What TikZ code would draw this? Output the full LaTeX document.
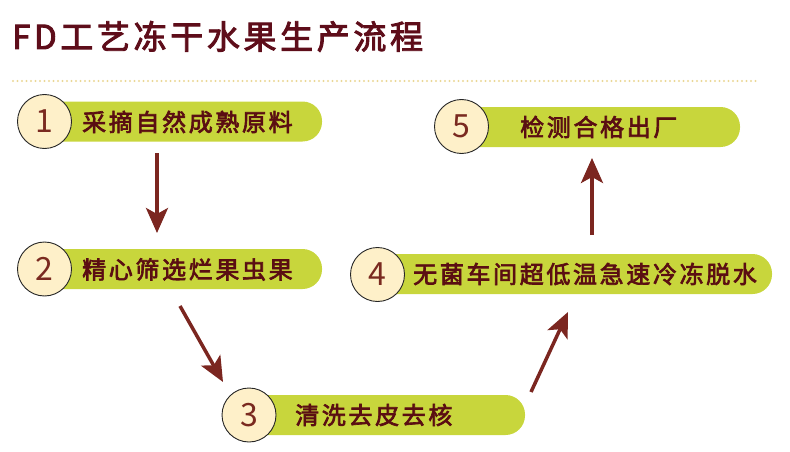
\documentclass[tikz,border=0pt]{standalone}
\usepackage{fontspec}
\newfontfamily\cjk[LetterSpace=11,FakeBold=2.8]{Noto Sans CJK SC}
\newfontfamily\cjknum{Noto Sans CJK SC}
\usetikzlibrary{arrows.meta}
\definecolor{titlec}{HTML}{5E0D1A}
\definecolor{dotc}{HTML}{EAD796}
\definecolor{pillc}{HTML}{C8D63C}
\definecolor{circc}{HTML}{FEF0C9}
\definecolor{labc}{HTML}{5A0E12}
\definecolor{numc}{HTML}{7A2A20}
\definecolor{arrc}{HTML}{7B2620}
\tikzset{
  pill/.style={fill=pillc, rounded corners=19.5pt, minimum height=40pt, inner sep=0pt},
  numcirc/.style={circle, draw=black!85, line width=0.9pt, fill=circc, minimum size=54pt, inner sep=0pt,
    text=numc, font=\cjknum\fontsize{32}{36}\selectfont},
  lab/.style={anchor=west, inner sep=0pt, text=labc, font=\cjk\fontsize{24}{28}\selectfont},
  flow/.style={draw=arrc, line width=3.5pt, -{Stealth[length=25pt,width=22pt,inset=6pt]}}
}
\begin{document}
\begin{tikzpicture}[x=1pt,y=-1pt]
\useasboundingbox (0,0) rectangle (790,452);
\node[anchor=base west, inner sep=0pt, text=titlec, font=\cjk\fontsize{33}{40}\selectfont] (title) at (12,49) {FD工艺冻干水果生产流程};
\coordinate (d1) at (13,81);
\coordinate (d2) at (760,81);
\draw[dotc, line width=2.4pt, dash pattern=on 0pt off 4.5pt, line cap=round] (d1) -- (d2);

% pills
\node[pill, minimum width=287pt] (p1) at (178.5,121.5) {};
\node[pill, minimum width=287pt] (p2) at (178.5,269) {};
\node[pill, minimum width=285pt] (p3) at (382.5,415) {};
\node[pill, minimum width=404pt] (p4) at (570,274) {};
\node[pill, minimum width=288pt] (p5) at (596,127) {};

% circles
\node[numcirc] (c1) at (44.5,121.5) {1};
\node[numcirc] (c2) at (44.5,269) {2};
\node[numcirc] (c3) at (249,415) {3};
\node[numcirc] (c4) at (377.5,274.5) {4};
\node[numcirc] (c5) at (461.5,126.5) {5};

% labels
\node[lab] (t1) at (82,122) {采摘自然成熟原料};
\node[lab] (t2) at (82,269.5) {精心筛选烂果虫果};
\node[lab] (t3) at (295,415) {清洗去皮去核};
\node[lab] (t4) at (413,274) {无菌车间超低温急速冷冻脱水};
\node[lab] (t5) at (520,127) {检测合格出厂};

% arrows
\coordinate (a1s) at (157,153);
\coordinate (a1e) at (157,233);
\coordinate (a2s) at (180,306);
\coordinate (a2e) at (223,382);
\coordinate (a3s) at (531,392);
\coordinate (a3e) at (568,312);
\coordinate (a4s) at (592,235);
\coordinate (a4e) at (592,158);
\draw[flow] (a1s) -- (a1e);
\draw[flow] (a2s) -- (a2e);
\draw[flow] (a3s) -- (a3e);
\draw[flow] (a4s) -- (a4e);
\end{tikzpicture}
\end{document}
